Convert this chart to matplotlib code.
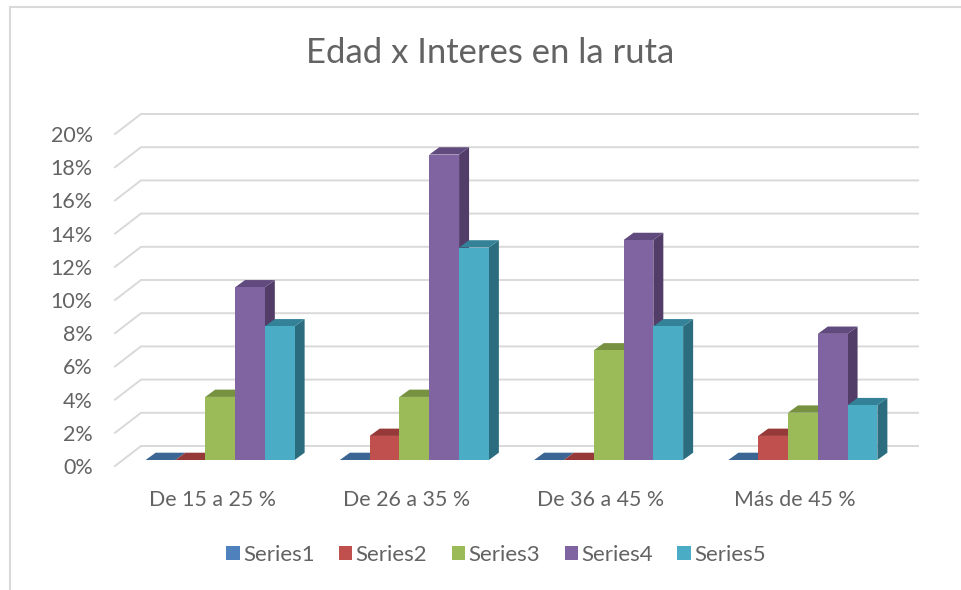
import matplotlib
matplotlib.use('Agg')
import matplotlib.pyplot as plt
from matplotlib.lines import Line2D
from matplotlib.patches import Patch

categories = ['De 15 a 25 %', 'De 26 a 35 %', 'De 36 a 45 %', 'Más de 45 %']
series_names = ['Series1', 'Series2', 'Series3', 'Series4', 'Series5']
series1 = [0, 0, 0, 0]
series2 = [0, 1.45, 0, 1.45]
series3 = [3.8, 3.8, 6.6, 2.85]
series4 = [10.4, 18.4, 13.25, 7.6]
series5 = [8.05, 12.8, 8.05, 3.3]
all_series = [series1, series2, series3, series4, series5]
y_ticks = [0, 2, 4, 6, 8, 10, 12, 14, 16, 18, 20]
y_labels = ['0%', '2%', '4%', '6%', '8%', '10%', '12%', '14%', '16%', '18%', '20%']

front_colors = ['#4F81BD', '#C0504D', '#9BBB59', '#8064A2', '#4BACC6']
top_colors = ['#3B6593', '#953A38', '#769140', '#604A7E', '#338298']
side_colors = ['#315478', '#7A2F2D', '#5F7734', '#523D69', '#2B6C7E']
text_color = '#636363'
grid_color = '#D9D9D9'

W, H = 961, 590
fig = plt.figure(figsize=(W / 100, H / 100), dpi=100)
plt.rcParams['font.family'] = ['Lato', 'DejaVu Sans']

# front plane of the fake 3d box, pixels from the reference
left, right, top, bottom = 115, 892, 134, 466
ax = fig.add_axes([left / W, 1 - bottom / H, (right - left) / W, (bottom - top) / H])
ax.set_xlim(0, 4)
ax.set_ylim(0, 20)
for s in ax.spines.values():
    s.set_visible(False)

# depth of the walls and of the bars, in data units
wall_dx, wall_dy = 26 / 194.25, 20 / 16.6
inset_dx, inset_dy = 8 / 194.25, 6 / 16.6
bar_dx, bar_dy = 10 / 194.25, 7.3 / 16.6
bar_w = 29.8 / 194.25
gap = (1 - 5 * bar_w) / 2

for v in y_ticks:
    ax.plot([0, wall_dx, 4 + wall_dx], [v, v + wall_dy, v + wall_dy],
            color=grid_color, lw=1.4, clip_on=False, zorder=1, solid_joinstyle='miter')

z = 2
for c in range(len(categories)):
    for i, values in enumerate(all_series):
        v = values[c]
        x0 = c + gap + i * bar_w + inset_dx
        x1 = x0 + bar_w
        y0 = inset_dy
        y1 = v + inset_dy
        ax.fill([x1, x1 + bar_dx, x1 + bar_dx, x1],
                [y0, y0 + bar_dy, y1 + bar_dy, y1],
                color=side_colors[i], lw=0, clip_on=False, zorder=z)
        ax.fill([x0, x1, x1 + bar_dx, x0 + bar_dx],
                [y1, y1, y1 + bar_dy, y1 + bar_dy],
                color=top_colors[i], lw=0, clip_on=False, zorder=z)
        ax.bar(x0, v, bar_w, bottom=y0, align='edge', color=front_colors[i],
               lw=0, clip_on=False, zorder=z)
        z += 1

ax.set_yticks(y_ticks)
ax.set_yticklabels(y_labels)
ax.set_xticks([c + 0.5 for c in range(len(categories))])
ax.set_xticklabels(categories)
ax.tick_params(axis='y', length=0, pad=16, labelsize=15.5, labelcolor=text_color)
ax.tick_params(axis='x', length=0, pad=17, labelsize=15.4, labelcolor=text_color)

fig.text(490 / W, 1 - 53 / H, 'Edad x Interes en la ruta', ha='center', va='center',
         fontsize=24.9, color=text_color)

handles = [Patch(facecolor=col, edgecolor='none') for col in front_colors]
fig.legend(handles, series_names, ncol=5, frameon=False, loc='center',
           bbox_to_anchor=(496 / W, 1 - 555 / H), fontsize=16, labelcolor=text_color,
           handlelength=0.6, handleheight=0.6, handletextpad=0.15, columnspacing=1.1)

# outer frame of the pasted chart
fig.add_artist(Line2D([10 / W, 10 / W], [0, 1 - 7 / H], color=grid_color, lw=1.5))
fig.add_artist(Line2D([10 / W, 1], [1 - 7 / H, 1 - 7 / H], color=grid_color, lw=1.5))

fig.savefig('out.png', dpi=100)
